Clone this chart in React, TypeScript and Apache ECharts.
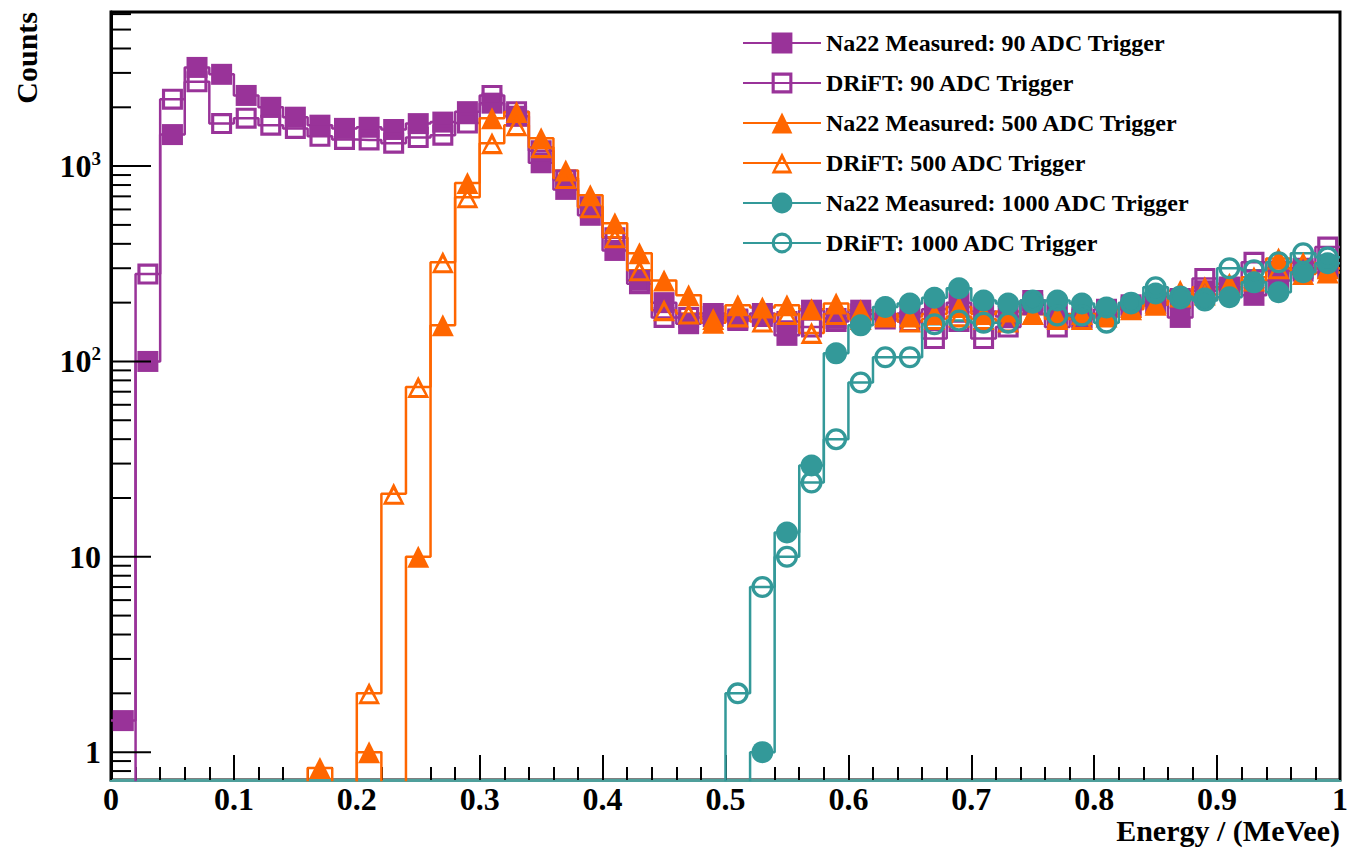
import React, { useEffect, useRef } from "react";
import * as echarts from "echarts";

// ---- Data ----
const binCenters = [
  0.01, 0.03, 0.05, 0.07, 0.09, 0.11, 0.13, 0.15, 0.17, 0.19,
  0.21, 0.23, 0.25, 0.27, 0.29, 0.31, 0.33, 0.35, 0.37, 0.39,
  0.41, 0.43, 0.45, 0.47, 0.49, 0.51, 0.53, 0.55, 0.57, 0.59,
  0.61, 0.63, 0.65, 0.67, 0.69, 0.71, 0.73, 0.75, 0.77, 0.79,
  0.81, 0.83, 0.85, 0.87, 0.89, 0.91, 0.93, 0.95, 0.97, 0.99,
];
const X_MIN = 0;
const X_MAX = 1;

const na22_90 = [
  1.45, 100, 1450, 3200, 2950, 2300, 2000, 1780, 1620, 1560,
  1580, 1540, 1650, 1680, 1900, 2100, 1800, 1040, 760, 560,
  370, 260, 200, 156, 176, 162, 176, 136, 183, 166,
  183, 170, 176, 185, 200, 180, 170, 195, 175, 165,
  185, 195, 215, 168, 230, 240, 218, 260, 290, 300,
];
const drift_90 = [
  0, 280, 2200, 2700, 1650, 1760, 1620, 1560, 1420, 1370,
  1360, 1310, 1400, 1440, 1660, 2300, 1900, 1200, 850, 620,
  430, 250, 168, 168, 170, 165, 170, 160, 150, 160,
  175, 165, 160, 131, 160, 131, 150, 205, 150, 168,
  175, 190, 200, 210, 266, 240, 322, 290, 300, 385,
];
const na22_500 = [
  0, 0, 0, 0, 0, 0, 0, 0, 0.83, 0,
  1.0, 0, 10, 153, 820, 1760, 1890, 1390, 950, 710,
  510, 358, 260, 218, 158, 194, 189, 194, 185, 198,
  183, 175, 170, 175, 190, 175, 180, 175, 170, 175,
  175, 190, 200, 230, 220, 235, 260, 337, 280, 285,
];
const drift_500 = [
  0, 0, 0, 0, 0, 0, 0, 0, 0, 0,
  2.0, 21, 74, 322, 693, 1310, 1620, 1250, 868, 616,
  432, 293, 183, 176, 165, 170, 160, 175, 140, 175,
  165, 170, 160, 165, 170, 165, 160, 175, 165, 165,
  170, 185, 195, 215, 240, 250, 270, 300, 320, 300,
];
const na22_1000 = [
  0, 0, 0, 0, 0, 0, 0, 0, 0, 0,
  0, 0, 0, 0, 0, 0, 0, 0, 0, 0,
  0, 0, 0, 0, 0, 0, 1.0, 13.3, 29.3, 110,
  153, 190, 198, 212, 237, 205, 198, 200, 205, 198,
  189, 198, 223, 210, 210, 213, 254, 226, 286, 318,
];
const drift_1000 = [
  0, 0, 0, 0, 0, 0, 0, 0, 0, 0,
  0, 0, 0, 0, 0, 0, 0, 0, 0, 0,
  0, 0, 0, 0, 0, 2.0, 7.0, 10, 24, 40,
  78, 105, 105, 155, 162, 158, 158, 205, 172, 172,
  158, 200, 240, 215, 205, 300, 293, 322, 358, 341,
];

const seriesNames = [
  "Na22 Measured: 90 ADC Trigger",
  "DRiFT: 90 ADC Trigger",
  "Na22 Measured: 500 ADC Trigger",
  "DRiFT: 500 ADC Trigger",
  "Na22 Measured: 1000 ADC Trigger",
  "DRiFT: 1000 ADC Trigger",
];

const xTickLabels = ["0", "0.1", "0.2", "0.3", "0.4", "0.5", "0.6", "0.7", "0.8", "0.9", "1"];

const yTicks = [
  0.8, 0.9,
  1, 2, 3, 4, 5, 6, 7, 8, 9,
  10, 20, 30, 40, 50, 60, 70, 80, 90,
  100, 200, 300, 400, 500, 600, 700, 800, 900,
  1000, 2000, 3000, 4000, 5000, 6000,
];

const Y_MIN = 0.72;
const Y_MAX = 6150;
const FLOOR = 0.3; // zero bins drawn below the axis (clipped)

const PURPLE = "#993399";
const ORANGE = "#ff6600";
const TEAL = "#339999";

const SERIF = '"Liberation Serif", "DejaVu Serif", serif';

const OPEN_SQUARE = "path://M0,0 H10 V10 H0 Z M1.5,1.5 V8.5 H8.5 V1.5 Z";
const OPEN_TRIANGLE = "path://M5,0 L10,10 L0,10 Z M5,3.2 L1.9,8.6 L8.1,8.6 Z";
const OPEN_CIRCLE =
  "path://M0,5 A5,5 0 1,1 10,5 A5,5 0 1,1 0,5 Z M1.5,5 A3.5,3.5 0 1,0 8.5,5 A3.5,3.5 0 1,0 1.5,5 Z";

function makeSeries(name: string, values: number[], symbol: string, size: number, color: string) {
  const data: any[] = [];
  const first = values[0] > 0 ? values[0] : FLOOR;
  const last = values[values.length - 1] > 0 ? values[values.length - 1] : FLOOR;
  data.push({ value: [X_MIN, first], symbol: "none" });
  values.forEach((v, i) => {
    if (v > 0) data.push({ value: [binCenters[i], v] });
    else data.push({ value: [binCenters[i], FLOOR], symbol: "none" });
  });
  data.push({ value: [X_MAX, last], symbol: "none" });
  return {
    type: "line",
    name,
    data,
    step: "middle",
    symbol,
    symbolSize: size,
    showAllSymbol: true,
    clip: true,
    lineStyle: { color, width: 2.5 },
    itemStyle: { color },
    emphasis: { disabled: true },
    z: 2,
  };
}

export default function App() {
  const ref = useRef<HTMLDivElement>(null);
  useEffect(() => {
    if (!ref.current) return;
    const chart = echarts.init(ref.current, undefined, { renderer: "svg" });
    const option: any = {
      animation: false,
      backgroundColor: "#ffffff",
      grid: {
        left: 111,
        right: 9,
        top: 12,
        bottom: 69,
        containLabel: false,
        outerBoundsMode: "none",
        show: true,
        borderColor: "#000",
        borderWidth: 3,
        backgroundColor: "transparent",
      },
      legend: {
        orient: "vertical",
        left: 737,
        top: 25,
        itemWidth: 78,
        itemHeight: 26,
        itemGap: 14,
        data: seriesNames,
        selectedMode: false,
        textStyle: {
          fontFamily: SERIF,
          fontWeight: "bold",
          fontSize: 24,
          color: "#000",
          lineHeight: 26,
          padding: [0, 0, 0, 0],
        },
      },
      xAxis: {
        type: "value",
        min: X_MIN,
        max: X_MAX,
        interval: 0.1,
        axisLine: { show: true, lineStyle: { color: "#4f9f9b", width: 3 } },
        axisTick: { show: true, inside: true, length: 25, lineStyle: { color: "#000", width: 2 } },
        minorTick: { show: true, splitNumber: 5, length: 13, lineStyle: { color: "#000", width: 2 } },
        splitLine: { show: false },
        axisLabel: {
          margin: 3,
          fontFamily: SERIF,
          fontWeight: "bold",
          fontSize: 32,
          color: "#000",
          formatter: (v: number) => {
            const idx = Math.round(v * 10);
            return xTickLabels[idx] ?? "";
          },
        },
      },
      yAxis: {
        type: "log",
        logBase: 10,
        min: Y_MIN,
        max: Y_MAX,
        axisLine: { show: true, lineStyle: { color: "#000", width: 3 } },
        axisTick: { show: false },
        splitLine: { show: false },
        axisLabel: {
          margin: 10,
          fontFamily: SERIF,
          fontWeight: "bold",
          fontSize: 32,
          color: "#000",
          formatter: (v: number) => {
            const l = Math.log10(v);
            const r = Math.round(l);
            if (Math.abs(l - r) > 1e-6) return "";
            if (r === 0) return "1";
            if (r === 1) return "10";
            return "{b|10}{s|" + r + "}";
          },
          rich: {
            b: { fontFamily: SERIF, fontWeight: "bold", fontSize: 32, color: "#000", lineHeight: 34 },
            s: { fontFamily: SERIF, fontWeight: "bold", fontSize: 19, color: "#000", verticalAlign: "top", lineHeight: 20 },
          },
        },
      },
      series: [
        makeSeries(seriesNames[0], na22_90, "rect", 21, PURPLE),
        makeSeries(seriesNames[1], drift_90, OPEN_SQUARE, 21, PURPLE),
        makeSeries(seriesNames[2], na22_500, "triangle", 22, ORANGE),
        makeSeries(seriesNames[3], drift_500, OPEN_TRIANGLE, 22, ORANGE),
        makeSeries(seriesNames[4], na22_1000, "circle", 22, TEAL),
        makeSeries(seriesNames[5], drift_1000, OPEN_CIRCLE, 22, TEAL),
        {
          type: "custom",
          name: "yticks",
          silent: true,
          z: 5,
          data: yTicks.map((v) => [X_MIN, v]),
          renderItem: (params: any, api: any) => {
            const v = api.value(1);
            const p = api.coord([api.value(0), v]);
            const l = Math.log10(v);
            const major = Math.abs(l - Math.round(l)) < 1e-6;
            const len = major ? 40 : 20;
            return {
              type: "line",
              shape: { x1: p[0], y1: p[1], x2: p[0] + len, y2: p[1] },
              style: { stroke: "#000", lineWidth: 2 },
            };
          },
        },
      ],
      graphic: [
        {
          type: "text",
          x: 26,
          y: 12,
          rotation: Math.PI / 2,
          style: {
            text: "Counts",
            fontFamily: SERIF,
            fontWeight: "bold",
            fontSize: 30,
            fill: "#000",
            align: "right",
            verticalAlign: "middle",
          },
        },
        {
          type: "text",
          x: 1340,
          y: 830,
          style: {
            text: "Energy / (MeVee)",
            fontFamily: SERIF,
            fontWeight: "bold",
            fontSize: 30,
            fill: "#000",
            align: "right",
            verticalAlign: "middle",
          },
        },
      ],
    };
    chart.setOption(option);
    return () => chart.dispose();
  }, []);
  return (
    <div
      ref={ref}
      style={{ position: "absolute", left: 0, top: 0, width: 1349, height: 849 }}
    />
  );
}
